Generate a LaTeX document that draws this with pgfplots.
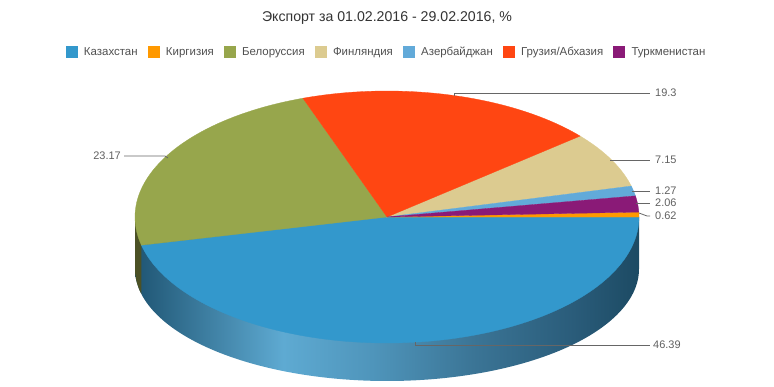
\documentclass[border=0pt]{standalone}
\usepackage{pgfplots}
\pgfplotsset{compat=1.18}
\usepackage{pgfplotstable}
\usepackage{fontspec}
\setmainfont{Liberation Sans}

\definecolor{cKaz}{HTML}{3398CC}
\definecolor{cKyr}{HTML}{FF9900}
\definecolor{cBel}{HTML}{97A64C}
\definecolor{cFin}{HTML}{DCCB90}
\definecolor{cAze}{HTML}{62AAD9}
\definecolor{cGeo}{HTML}{FF4612}
\definecolor{cTur}{HTML}{8A1A77}
\definecolor{cBelSide}{HTML}{4B5125}
\definecolor{titlec}{HTML}{333333}
\definecolor{legc}{HTML}{505050}
\definecolor{labc}{HTML}{606060}
\definecolor{linec}{HTML}{666666}
\definecolor{s0}{HTML}{1F5573}
\definecolor{s1}{HTML}{5EAAD2}
\definecolor{s2}{HTML}{4F95BB}
\definecolor{s3}{HTML}{3B7596}
\definecolor{s4}{HTML}{2A5C7A}
\definecolor{s5}{HTML}{1C4A63}
\pgfdeclarehorizontalshading{kzside}{100bp}{color(0bp)=(s0); color(25bp)=(s0); color(39.7bp)=(s1); color(48.5bp)=(s2); color(58.5bp)=(s3); color(68.5bp)=(s4); color(75bp)=(s5); color(100bp)=(s5)}

\pgfplotstableread{
key value
Kaz 46.39
Kyr 0.62
Bel 23.17
Fin 7.15
Aze 1.27
Geo 19.3
Tur 2.06
}\piedata

\pgfplotstablegetelem{0}{value}\of\piedata \let\vKaz\pgfplotsretval
\pgfplotstablegetelem{1}{value}\of\piedata \let\vKyr\pgfplotsretval
\pgfplotstablegetelem{2}{value}\of\piedata \let\vBel\pgfplotsretval
\pgfplotstablegetelem{3}{value}\of\piedata \let\vFin\pgfplotsretval
\pgfplotstablegetelem{4}{value}\of\piedata \let\vAze\pgfplotsretval
\pgfplotstablegetelem{5}{value}\of\piedata \let\vGeo\pgfplotsretval
\pgfplotstablegetelem{6}{value}\of\piedata \let\vTur\pgfplotsretval
\pgfmathsetmacro\tot{\vKaz+\vKyr+\vBel+\vFin+\vAze+\vGeo+\vTur}
\pgfmathsetmacro\kk{360/\tot}
% clockwise order: Kaz, Bel, Geo, Fin, Aze, Tur, Kyr
\pgfmathsetmacro\aKaz{-\vKaz*\kk}
\pgfmathsetmacro\aBel{\aKaz-\vBel*\kk}
\pgfmathsetmacro\aGeo{\aBel-\vGeo*\kk}
\pgfmathsetmacro\aFin{\aGeo-\vFin*\kk}
\pgfmathsetmacro\aAze{\aFin-\vAze*\kk}
\pgfmathsetmacro\aTur{\aAze-\vTur*\kk}
\def\aKyr{-360}
\def\cx{387}\def\cy{217}\def\rx{252}\def\ry{126}\def\dd{52}\def\ryb{112}
\pgfmathsetmacro\xL{\cx-\rx}
\pgfmathsetmacro\xR{\cx+\rx}
\pgfmathsetmacro\bx{\cx+\rx*cos(\aKaz)}
\pgfmathsetmacro\by{\cy-\ry*sin(\aKaz)}

\begin{document}%
\begin{tikzpicture}
\begin{axis}[
  width=774bp, height=387bp, scale only axis,
  xmin=0, xmax=774, ymin=0, ymax=387, y dir=reverse,
  enlargelimits=false,
  hide axis, clip=false, xtick=\empty, ytick=\empty,
  legend columns=7,
  legend style={draw=none, fill=none, at={(0.4994,0.866)}, anchor=center,
    font=\fontsize{11.5}{13}\selectfont, text=legc, inner sep=0pt,
    /tikz/every even column/.append style={column sep=8bp},
    /tikz/every odd column/.append style={column sep=5bp}},
  legend image code/.code={\fill[#1] (0bp,-5.5bp) rectangle (11bp,5.5bp);},
]
% side walls
\addplot[forget plot, draw=none, shade, shading=kzside, domain=-180:0, samples=120, variable=\t]
  ({\cx+\rx*cos(\t)},{\cy+\dd-\ryb*sin(\t)}) -- (axis cs:\xR,\cy) -- (axis cs:\xL,\cy) -- cycle;
\addplot[forget plot, draw=none, fill=cBelSide, domain=-180:\aKaz, samples=12, variable=\t]
  ({\cx+\rx*cos(\t)},{\cy+\dd-\ryb*sin(\t)}) -- (axis cs:\bx,\by) -- (axis cs:\xL,\cy) -- cycle;
% top face slices (legend order)
\addplot[fill=cKaz, draw=cKaz, line width=0.3bp, domain=\aKaz:0, samples=120, variable=\t]
  ({\cx+\rx*cos(\t)},{\cy-\ry*sin(\t)}) -- (axis cs:\cx,\cy) -- cycle;
\addlegendentry{Казахстан}
\addplot[fill=cKyr, draw=cKyr, line width=0.3bp, domain=\aKyr:\aTur, samples=6, variable=\t]
  ({\cx+\rx*cos(\t)},{\cy-\ry*sin(\t)}) -- (axis cs:\cx,\cy) -- cycle;
\addlegendentry{Киргизия}
\addplot[fill=cBel, draw=cBel, line width=0.3bp, domain=\aBel:\aKaz, samples=60, variable=\t]
  ({\cx+\rx*cos(\t)},{\cy-\ry*sin(\t)}) -- (axis cs:\cx,\cy) -- cycle;
\addlegendentry{Белоруссия}
\addplot[fill=cFin, draw=cFin, line width=0.3bp, domain=\aFin:\aGeo, samples=20, variable=\t]
  ({\cx+\rx*cos(\t)},{\cy-\ry*sin(\t)}) -- (axis cs:\cx,\cy) -- cycle;
\addlegendentry{Финляндия}
\addplot[fill=cAze, draw=cAze, line width=0.3bp, domain=\aAze:\aFin, samples=6, variable=\t]
  ({\cx+\rx*cos(\t)},{\cy-\ry*sin(\t)}) -- (axis cs:\cx,\cy) -- cycle;
\addlegendentry{Азербайджан}
\addplot[fill=cGeo, draw=cGeo, line width=0.3bp, domain=\aGeo:\aBel, samples=50, variable=\t]
  ({\cx+\rx*cos(\t)},{\cy-\ry*sin(\t)}) -- (axis cs:\cx,\cy) -- cycle;
\addlegendentry{Грузия/Абхазия}
\addplot[fill=cTur, draw=cTur, line width=0.3bp, domain=\aTur:\aAze, samples=8, variable=\t]
  ({\cx+\rx*cos(\t)},{\cy-\ry*sin(\t)}) -- (axis cs:\cx,\cy) -- cycle;
\addlegendentry{Туркменистан}
% title
\node[text=titlec, font=\fontsize{14.2}{17}\selectfont] at (axis cs:387,18) {Экспорт за 01.02.2016 - 29.02.2016, \%};
% leader lines and labels
\begin{scope}[linec, line width=0.8bp]
\draw (axis cs:454,96) -- (axis cs:454,93) -- (axis cs:650,93);
\draw (axis cs:610,160) -- (axis cs:650,160);
\draw (axis cs:632,191) -- (axis cs:650,191);
\draw (axis cs:636,203) -- (axis cs:650,203);
\draw (axis cs:639,213) -- (axis cs:647,216) -- (axis cs:650,216);
\draw (axis cs:415,342) -- (axis cs:415,345) -- (axis cs:650,345);
\draw (axis cs:168,158) -- (axis cs:165,156) -- (axis cs:124,156);
\end{scope}
\begin{scope}[every node/.style={text=labc, font=\fontsize{11}{13}\selectfont, inner sep=0pt}]
\node[anchor=west] at (axis cs:655,93) {19.3};
\node[anchor=west] at (axis cs:655,160) {7.15};
\node[anchor=west] at (axis cs:655,191) {1.27};
\node[anchor=west] at (axis cs:655,203) {2.06};
\node[anchor=west] at (axis cs:655,216) {0.62};
\node[anchor=west] at (axis cs:653,345) {46.39};
\node[anchor=east] at (axis cs:121,156) {23.17};
\end{scope}
\end{axis}
\pgfresetboundingbox
\path (current axis.south west) rectangle (current axis.north east);
\end{tikzpicture}%
\end{document}
